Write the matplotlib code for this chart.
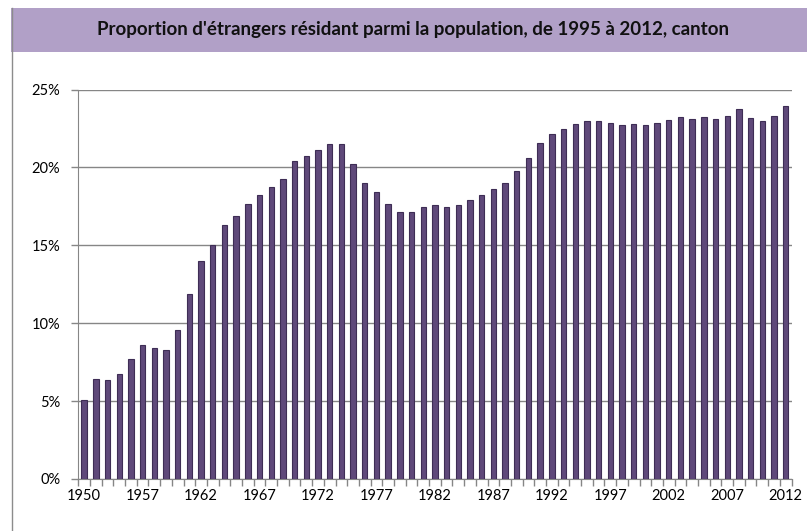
import matplotlib.pyplot as plt
import numpy as np
from matplotlib.patches import Rectangle
from matplotlib.lines import Line2D

# --------------------------------------------------------------------------------

title = "Proportion d'étrangers résidant parmi la population, de 1995 à 2012, canton"

years = [1950, 1951, 1953, 1955, 1956] + list(range(1957, 2013))

share = [5.04, 6.45, 6.37, 6.71, 7.71, 8.61, 8.38, 8.29, 9.57, 11.86,
         13.97, 15.04, 16.30, 16.90, 17.65, 18.25, 18.76, 19.23, 20.40, 20.75,
         21.13, 21.50, 21.50, 20.24, 18.99, 18.42, 17.67, 17.14, 17.14, 17.44,
         17.56, 17.48, 17.61, 17.91, 18.25, 18.63, 18.97, 19.79, 20.60, 21.56,
         22.16, 22.44, 22.77, 23.01, 22.97, 22.88, 22.74, 22.76, 22.74, 22.86,
         23.06, 23.21, 23.10, 23.23, 23.08, 23.27, 23.72, 23.16, 22.99, 23.33,
         23.95]

yticks = [0, 5, 10, 15, 20, 25]

# --------------------------------------------------------------------------------

plt.rcParams['font.family'] = ['Lato', 'DejaVu Sans']

fig = plt.figure(figsize=(8.07, 5.31), dpi=100)

# title band + left frame line
fig.patches.append(Rectangle((11 / 807, 1 - 52 / 531), 1, 44 / 531,
                             transform=fig.transFigure, facecolor='#B1A0C7',
                             edgecolor='none', zorder=0))
fig.lines.append(Line2D([11.5 / 807, 11.5 / 807], [0, 1 - 8 / 531],
                        transform=fig.transFigure, color='#8c8c8c', lw=1))
fig.text(413 / 807, 1 - 30 / 531, title, ha='center', va='center',
         fontsize=13.5, fontweight='bold', color='#111111')

ax = fig.add_axes([78.3 / 807, 1 - 479 / 531, (791.5 - 78.3) / 807, (479 - 89.5) / 531])

x = np.arange(len(share))
ax.bar(x, share, width=0.46, color='#5F497A', edgecolor='#3E2D55', linewidth=0.8, zorder=3)

ax.set_xlim(-0.5, len(share) - 0.5)
ax.set_ylim(0, 25)

ax.set_yticks(yticks)
ax.set_yticklabels([f'{t}%' for t in yticks])
ax.yaxis.grid(True, color='#868686', lw=1)
ax.set_axisbelow(True)

lab_idx = list(range(0, len(share), 5))
ax.set_xticks(lab_idx)
ax.set_xticklabels([str(years[i]) for i in lab_idx])
ax.set_xticks(np.arange(-0.5, len(share), 1), minor=True)
ax.tick_params(axis='x', which='major', length=0, pad=7, labelsize=10.5)
ax.tick_params(axis='x', which='minor', length=5, color='#868686', width=1)
ax.tick_params(axis='y', length=5, color='#868686', width=1, pad=8, labelsize=10.5)

for s in ['top', 'right']:
    ax.spines[s].set_visible(False)
for s in ['left', 'bottom']:
    ax.spines[s].set_color('#868686')

plt.savefig('out.png', dpi=100)
